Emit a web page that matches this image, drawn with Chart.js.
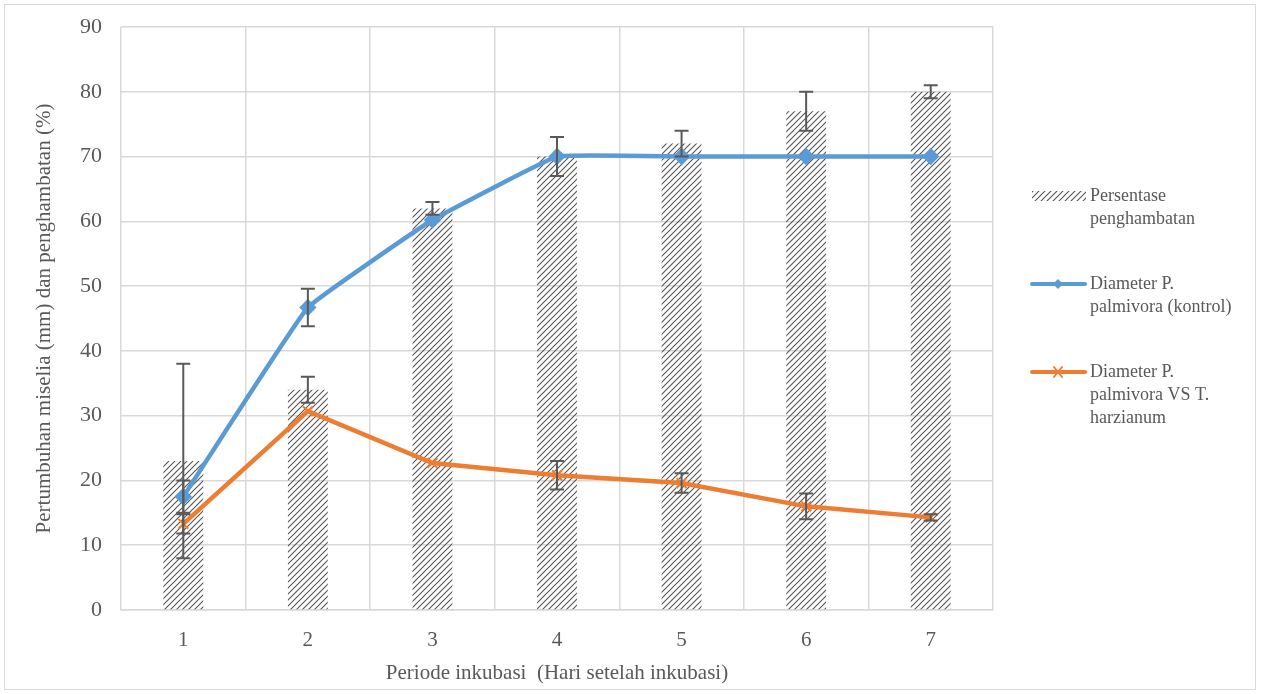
<!DOCTYPE html>
<html>
<head>
<meta charset="utf-8">
<script src="https://cdn.jsdelivr.net/npm/chart.js@4/dist/chart.umd.min.js"></script>
<style>
  body { margin: 0; background: #fff; }
  #wrap { position: relative; width: 1261px; height: 694px; }
</style>
</head>
<body>
<div id="wrap"><canvas id="chart" width="1261" height="694"></canvas></div>
<script>
// data
const days = ['1', '2', '3', '4', '5', '6', '7'];
const inhibition = [23, 34, 62, 70, 72, 77, 80];
const inhibitionErr = [15, 2, 1, 3, 2, 3, 1];
const kontrol = [17.5, 46.7, 60.2, 70, 70, 70, 70];
const kontrolErr = [2.5, 2.9, 0, 0, 0, 0, 0];
const versus = [13.3, 30.7, 22.7, 20.8, 19.6, 16, 14.3];
const versusErr = [1.5, 0, 0, 2.2, 1.5, 2, 0.5];
const yTicks = [0, 10, 20, 30, 40, 50, 60, 70, 80, 90];

const legendLines = [
  ['Persentase', 'penghambatan'],
  ['Diameter P.', 'palmivora (kontrol)'],
  ['Diameter P.', 'palmivora VS T.', 'harzianum']
];

const textColor = '#595959';
const serif = '"Liberation Serif", "Times New Roman", serif';

// diagonal hatch for the bars
const makeHatch = function () {
  let tile = document.createElement('canvas');
  tile.width = 6; tile.height = 6;
  let c = tile.getContext('2d');
  c.strokeStyle = '#555';
  c.lineWidth = 1.1;
  c.beginPath();
  c.moveTo(-1, 7); c.lineTo(7, -1);
  c.moveTo(-1, 1); c.lineTo(1, -1);
  c.moveTo(5, 7); c.lineTo(7, 5);
  c.stroke();
  return document.getElementById('chart').getContext('2d').createPattern(tile, 'repeat');
};
const hatch = makeHatch();

const errorBars = {
  id: 'errorBars',
  afterDatasetsDraw(chart) {
    const ctx = chart.ctx;
    const y = chart.scales.y;
    const sets = [[0, inhibition, inhibitionErr], [1, kontrol, kontrolErr], [2, versus, versusErr]];
    ctx.save();
    ctx.strokeStyle = '#595959';
    ctx.lineWidth = 2;
    sets.forEach(([idx, vals, errs]) => {
      const meta = chart.getDatasetMeta(idx);
      vals.forEach((v, i) => {
        if (!errs[i]) return;
        const x = meta.data[i].x;
        const top = y.getPixelForValue(v + errs[i]);
        const bot = y.getPixelForValue(v - errs[i]);
        ctx.beginPath();
        ctx.moveTo(x, top); ctx.lineTo(x, bot);
        ctx.moveTo(x - 7, top); ctx.lineTo(x + 7, top);
        ctx.moveTo(x - 7, bot); ctx.lineTo(x + 7, bot);
        ctx.stroke();
      });
    });
    ctx.restore();
  }
};

const sideLegend = {
  id: 'sideLegend',
  afterDraw(chart) {
    const ctx = chart.ctx;
    const tops = [196, 284, 372];
    ctx.save();
    ctx.font = '18px ' + serif;
    ctx.fillStyle = textColor;
    ctx.textBaseline = 'middle';
    legendLines.forEach((lines, k) => {
      const ly = tops[k];
      lines.forEach((t, j) => ctx.fillText(t, 1090, ly + j * 23));
      if (k === 0) {
        ctx.fillStyle = hatch;
        ctx.fillRect(1032, ly - 5, 54, 10);
        ctx.fillStyle = textColor;
      } else {
        const col = k === 1 ? '#5b9bd5' : '#ed7d31';
        ctx.strokeStyle = col;
        ctx.lineWidth = 4;
        ctx.lineCap = 'round';
        ctx.beginPath();
        ctx.moveTo(1032, ly); ctx.lineTo(1085, ly);
        ctx.stroke();
        ctx.lineWidth = 2;
        ctx.beginPath();
        if (k === 1) {
          ctx.fillStyle = col;
          ctx.moveTo(1058, ly - 5); ctx.lineTo(1063, ly); ctx.lineTo(1058, ly + 5); ctx.lineTo(1053, ly);
          ctx.closePath(); ctx.fill();
          ctx.fillStyle = textColor;
        } else {
          ctx.moveTo(1054, ly - 5); ctx.lineTo(1062, ly + 5);
          ctx.moveTo(1062, ly - 5); ctx.lineTo(1054, ly + 5);
          ctx.stroke();
        }
      }
    });
    // outer frame
    ctx.strokeStyle = '#d9d9d9';
    ctx.lineWidth = 1;
    ctx.strokeRect(4.5, 4.5, 1251, 685);
    ctx.restore();
  }
};

new Chart(document.getElementById('chart'), {
  data: {
    labels: days,
    datasets: [
      {
        type: 'bar',
        label: 'Persentase penghambatan',
        data: inhibition,
        backgroundColor: hatch,
        barPercentage: 0.32,
        categoryPercentage: 1,
        order: 3
      },
      {
        type: 'line',
        label: 'Diameter P. palmivora (kontrol)',
        data: kontrol,
        borderColor: '#5b9bd5',
        backgroundColor: '#5b9bd5',
        borderWidth: 4.5,
        pointStyle: 'rectRot',
        pointRadius: 5.5,
        tension: 0.08,
        order: 1
      },
      {
        type: 'line',
        label: 'Diameter P. palmivora VS T. harzianum',
        data: versus,
        borderColor: '#ed7d31',
        backgroundColor: '#ed7d31',
        borderWidth: 4.5,
        pointStyle: 'crossRot',
        pointRadius: 7,
        pointBorderWidth: 2,
        tension: 0,
        order: 2
      }
    ]
  },
  options: {
    responsive: false,
    animation: false,
    layout: { padding: { top: 27, right: 268, left: 28, bottom: 0 } },
    plugins: {
      legend: { display: false },
      tooltip: { enabled: false }
    },
    scales: {
      x: {
        grid: { color: '#d9d9d9', lineWidth: 1.5, offset: true, drawTicks: false },
        border: { color: '#d9d9d9', width: 1.5 },
        ticks: { color: textColor, font: { family: serif, size: 21 }, padding: 18 },
        title: {
          display: true,
          text: 'Periode inkubasi  (Hari setelah inkubasi)',
          color: textColor,
          font: { family: serif, size: 21 },
          padding: { top: 2, bottom: 8 }
        },
        afterFit: s => { s.height = 84; }
      },
      y: {
        min: 0,
        max: 90,
        afterBuildTicks: s => { s.ticks = yTicks.map(v => ({ value: v })); },
        grid: { color: '#d9d9d9', lineWidth: 1.5, drawTicks: false },
        border: { display: false },
        ticks: { color: textColor, font: { family: serif, size: 22 }, padding: 19 },
        title: {
          display: true,
          text: 'Pertumbuhan miselia (mm) dan penghambatan (%)',
          color: textColor,
          font: { family: serif, size: 21 },
          padding: { bottom: 4 }
        },
        afterFit: s => { s.width = 93; s.paddingTop = 0; }
      }
    }
  },
  plugins: [errorBars, sideLegend]
});
</script>
</body>
</html>
